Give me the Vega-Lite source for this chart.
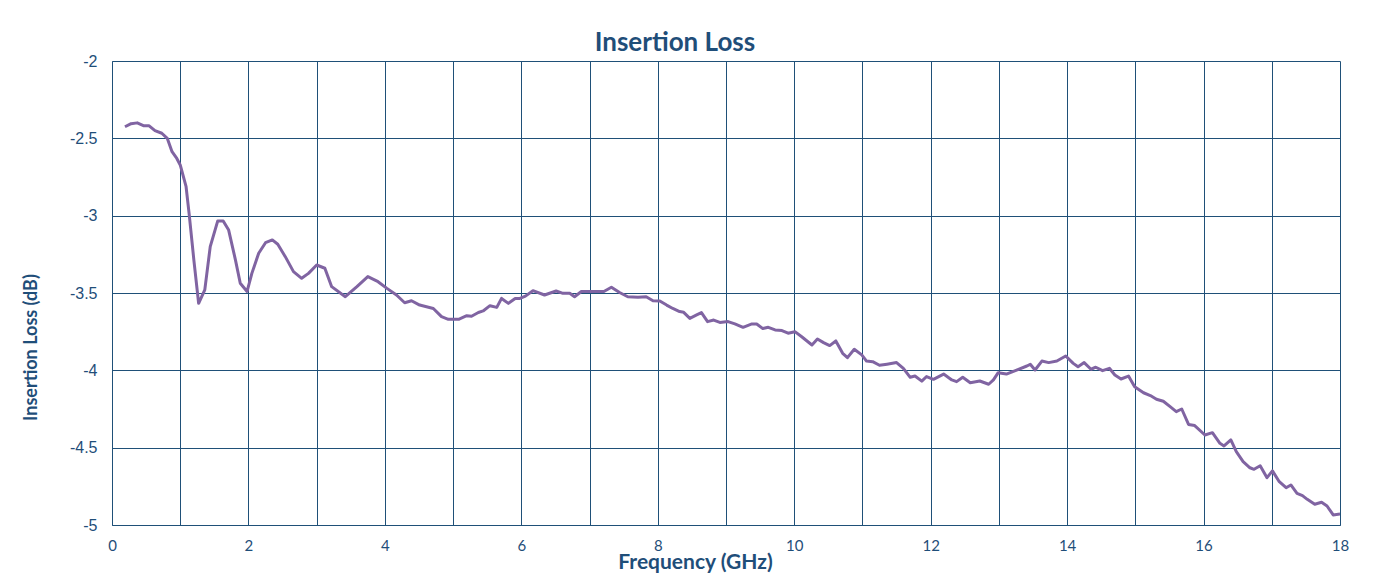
{
  "$schema": "https://vega.github.io/schema/vega-lite/v6.json",
  "width": 1228,
  "height": 464,
  "autosize": {"type": "none"},
  "padding": {"left": 112, "top": 61, "right": 37, "bottom": 55},
  "background": "white",
  "title": {
    "text": "Insertion Loss",
    "font": "Lato",
    "fontSize": 26,
    "fontWeight": "bold",
    "color": "#1f4e79",
    "anchor": "middle",
    "dx": -51,
    "offset": -3
  },
  "config": {
    "view": {"stroke": null},
    "axis": {
      "gridColor": "#1f5078",
      "gridWidth": 1,
      "gridOpacity": 1,
      "domainColor": "#1f5078",
      "domainWidth": 1,
      "ticks": false,
      "labelColor": "#1f4e79",
      "titleColor": "#1f4e79",
      "labelFont": "Lato",
      "titleFont": "Lato",
      "titleFontWeight": "bold"
    }
  },
  "data": {
    "values": [
      {"f": 0.19, "il": -2.425}, {"f": 0.28, "il": -2.405}, {"f": 0.37, "il": -2.4}, {"f": 0.46, "il": -2.418},
      {"f": 0.54, "il": -2.418}, {"f": 0.63, "il": -2.45}, {"f": 0.73, "il": -2.467}, {"f": 0.81, "il": -2.5},
      {"f": 0.88, "il": -2.586}, {"f": 0.95, "il": -2.63}, {"f": 1.0, "il": -2.672}, {"f": 1.085, "il": -2.81},
      {"f": 1.13, "il": -2.985}, {"f": 1.2, "il": -3.287}, {"f": 1.27, "il": -3.567}, {"f": 1.36, "il": -3.48},
      {"f": 1.44, "il": -3.2}, {"f": 1.55, "il": -3.034}, {"f": 1.63, "il": -3.034}, {"f": 1.71, "il": -3.093},
      {"f": 1.81, "il": -3.287}, {"f": 1.88, "il": -3.437}, {"f": 1.98, "il": -3.49}, {"f": 2.05, "il": -3.373},
      {"f": 2.15, "il": -3.243}, {"f": 2.25, "il": -3.175}, {"f": 2.35, "il": -3.157}, {"f": 2.43, "il": -3.185},
      {"f": 2.54, "il": -3.265}, {"f": 2.66, "il": -3.362}, {"f": 2.78, "il": -3.405}, {"f": 2.88, "il": -3.373},
      {"f": 3.0, "il": -3.319}, {"f": 3.12, "il": -3.34}, {"f": 3.22, "il": -3.459}, {"f": 3.42, "il": -3.524},
      {"f": 3.59, "il": -3.459}, {"f": 3.75, "il": -3.394}, {"f": 3.9, "il": -3.427}, {"f": 4.03, "il": -3.47},
      {"f": 4.17, "il": -3.513}, {"f": 4.29, "il": -3.563}, {"f": 4.39, "il": -3.55}, {"f": 4.51, "il": -3.578},
      {"f": 4.71, "il": -3.6}, {"f": 4.83, "il": -3.653}, {"f": 4.93, "il": -3.67}, {"f": 5.08, "il": -3.67},
      {"f": 5.2, "il": -3.647}, {"f": 5.27, "il": -3.65}, {"f": 5.37, "il": -3.626}, {"f": 5.44, "il": -3.616},
      {"f": 5.54, "il": -3.582}, {"f": 5.64, "il": -3.593}, {"f": 5.71, "il": -3.535}, {"f": 5.81, "il": -3.567},
      {"f": 5.91, "il": -3.535}, {"f": 5.98, "il": -3.535}, {"f": 6.06, "il": -3.52}, {"f": 6.17, "il": -3.485},
      {"f": 6.34, "il": -3.513}, {"f": 6.51, "il": -3.487}, {"f": 6.61, "il": -3.502}, {"f": 6.71, "il": -3.502},
      {"f": 6.78, "il": -3.524}, {"f": 6.88, "il": -3.49}, {"f": 7.05, "il": -3.49}, {"f": 7.21, "il": -3.49},
      {"f": 7.32, "il": -3.463}, {"f": 7.44, "il": -3.497}, {"f": 7.56, "il": -3.524}, {"f": 7.71, "il": -3.528},
      {"f": 7.83, "il": -3.524}, {"f": 7.93, "il": -3.55}, {"f": 8.03, "il": -3.552}, {"f": 8.13, "il": -3.578},
      {"f": 8.22, "il": -3.6}, {"f": 8.32, "il": -3.62}, {"f": 8.38, "il": -3.625}, {"f": 8.47, "il": -3.664},
      {"f": 8.57, "il": -3.642}, {"f": 8.64, "il": -3.627}, {"f": 8.73, "il": -3.685}, {"f": 8.82, "il": -3.675},
      {"f": 8.91, "il": -3.69}, {"f": 9.03, "il": -3.685}, {"f": 9.13, "il": -3.7}, {"f": 9.25, "il": -3.722},
      {"f": 9.38, "il": -3.7}, {"f": 9.45, "il": -3.7}, {"f": 9.54, "il": -3.73}, {"f": 9.62, "il": -3.722},
      {"f": 9.72, "il": -3.739}, {"f": 9.82, "il": -3.743}, {"f": 9.91, "il": -3.76}, {"f": 10.01, "il": -3.75},
      {"f": 10.11, "il": -3.783}, {"f": 10.26, "il": -3.836}, {"f": 10.34, "il": -3.797}, {"f": 10.43, "il": -3.821},
      {"f": 10.52, "il": -3.84}, {"f": 10.61, "il": -3.81}, {"f": 10.71, "il": -3.89}, {"f": 10.78, "il": -3.918},
      {"f": 10.88, "il": -3.864}, {"f": 10.99, "il": -3.9}, {"f": 11.06, "il": -3.94}, {"f": 11.15, "il": -3.944},
      {"f": 11.25, "il": -3.967}, {"f": 11.36, "il": -3.96}, {"f": 11.5, "il": -3.95}, {"f": 11.6, "il": -3.987},
      {"f": 11.7, "il": -4.045}, {"f": 11.77, "il": -4.037}, {"f": 11.87, "il": -4.07}, {"f": 11.94, "il": -4.04},
      {"f": 12.04, "il": -4.058}, {"f": 12.19, "il": -4.024}, {"f": 12.31, "il": -4.062}, {"f": 12.38, "il": -4.073},
      {"f": 12.47, "il": -4.045}, {"f": 12.58, "il": -4.08}, {"f": 12.72, "il": -4.069}, {"f": 12.85, "il": -4.09},
      {"f": 12.92, "il": -4.062}, {"f": 12.99, "il": -4.015}, {"f": 13.11, "il": -4.024}, {"f": 13.26, "il": -3.998},
      {"f": 13.41, "il": -3.972}, {"f": 13.46, "il": -3.961}, {"f": 13.53, "il": -3.998}, {"f": 13.63, "il": -3.94},
      {"f": 13.73, "il": -3.95}, {"f": 13.85, "il": -3.94}, {"f": 13.98, "il": -3.907}, {"f": 14.09, "il": -3.955},
      {"f": 14.16, "il": -3.977}, {"f": 14.25, "il": -3.95}, {"f": 14.35, "il": -3.993}, {"f": 14.42, "il": -3.98},
      {"f": 14.52, "il": -4.002}, {"f": 14.62, "il": -3.987}, {"f": 14.7, "il": -4.03}, {"f": 14.79, "il": -4.056},
      {"f": 14.9, "il": -4.037}, {"f": 14.99, "il": -4.106}, {"f": 15.12, "il": -4.145}, {"f": 15.22, "il": -4.163},
      {"f": 15.31, "il": -4.187}, {"f": 15.41, "il": -4.2}, {"f": 15.51, "il": -4.235}, {"f": 15.6, "il": -4.267},
      {"f": 15.68, "il": -4.25}, {"f": 15.78, "il": -4.35}, {"f": 15.87, "il": -4.357}, {"f": 16.02, "il": -4.418},
      {"f": 16.13, "il": -4.403}, {"f": 16.24, "il": -4.472}, {"f": 16.3, "il": -4.489}, {"f": 16.4, "il": -4.45},
      {"f": 16.48, "il": -4.526}, {"f": 16.58, "il": -4.59}, {"f": 16.68, "il": -4.63}, {"f": 16.74, "il": -4.64},
      {"f": 16.83, "il": -4.617}, {"f": 16.93, "il": -4.694}, {"f": 17.01, "il": -4.65}, {"f": 17.11, "il": -4.72},
      {"f": 17.21, "il": -4.759}, {"f": 17.28, "il": -4.741}, {"f": 17.37, "il": -4.795}, {"f": 17.45, "il": -4.81},
      {"f": 17.52, "il": -4.834}, {"f": 17.63, "il": -4.866}, {"f": 17.73, "il": -4.853}, {"f": 17.81, "il": -4.877},
      {"f": 17.9, "il": -4.935}, {"f": 18.0, "il": -4.929}
    ]
  },
  "mark": {"type": "line", "color": "#8064a2", "strokeWidth": 3, "strokeJoin": "round", "clip": true},
  "encoding": {
    "x": {
      "field": "f",
      "type": "quantitative",
      "scale": {"domain": [0, 18], "nice": false, "zero": false},
      "axis": {
        "values": [0, 1, 2, 3, 4, 5, 6, 7, 8, 9, 10, 11, 12, 13, 14, 15, 16, 17, 18],
        "labelExpr": "datum.value % 2 === 0 ? '' + datum.value : ''",
        "labelFontSize": 15,
        "labelPadding": 13,
        "labelFlush": false,
        "title": "Frequency (GHz)",
        "titleFontSize": 21,
        "titleX": 583,
        "titleY": 43,
        "titleBaseline": "alphabetic"
      }
    },
    "y": {
      "field": "il",
      "type": "quantitative",
      "scale": {"domain": [-5, -2], "nice": false, "zero": false},
      "axis": {
        "values": [-5, -4.5, -4, -3.5, -3, -2.5, -2],
        "labelExpr": "'' + datum.value",
        "labelFont": "Liberation Sans",
        "labelFontSize": 16,
        "labelPadding": 15,
        "labelFlush": false,
        "title": "Insertion Loss (dB)",
        "titleFontSize": 18,
        "titleX": -76,
        "titleY": 286,
        "titleBaseline": "alphabetic"
      }
    }
  }
}
